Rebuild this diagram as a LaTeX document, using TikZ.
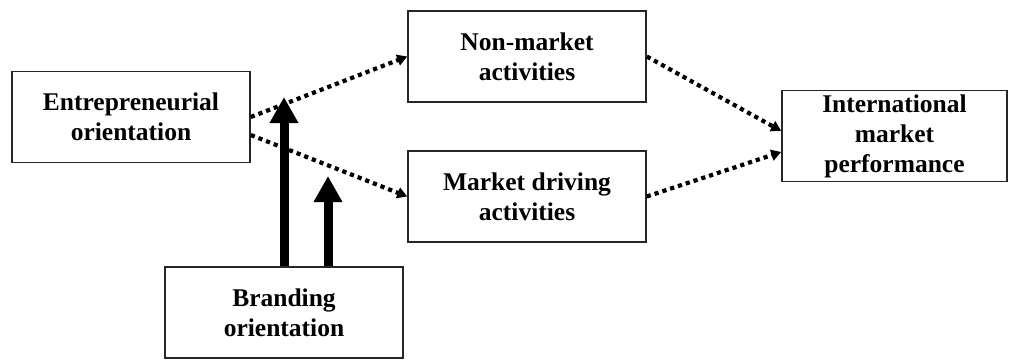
\documentclass[tikz,border=0pt]{standalone}
\usepackage{fontspec}
\setmainfont{Liberation Serif}
\usetikzlibrary{arrows.meta,calc}
\begin{document}
\begin{tikzpicture}[x=1pt,y=-1pt,
  boxnode/.style={draw=black!85,line width=1.6pt,fill=white,minimum width=238pt,minimum height=91pt,
    align=center,inner sep=0pt,font=\fontsize{25.5}{30}\selectfont\bfseries},
  dotarrow/.style={line width=4.2pt,dash pattern=on 4.2pt off 4pt,-{Triangle[length=10pt,width=11pt]}},
  fatarrow/.style={line width=9pt,-{Triangle[length=26pt,width=27pt]}}]
\useasboundingbox (0,0) rectangle (1009,359);
\node[boxnode] (eo) at (131,117) {Entrepreneurial\\orientation};
\node[boxnode] (nm) at (527,56.5) {Non-market\\activities};
\node[boxnode] (md) at (527,196.5) {Market driving\\activities};
\node[boxnode,minimum width=225pt] (imp) at (894.5,136) {International\\market\\performance};
\node[boxnode] (bo) at (284,312.5) {Branding\\orientation};
\coordinate (eoa) at ($(eo.east)+(0,0)$);
\coordinate (eob) at ($(eo.east)+(0,18)$);
\coordinate (impa) at ($(imp.west)+(0,-5)$);
\coordinate (impb) at ($(imp.west)+(0,16)$);
\coordinate (t1) at (284,97);
\coordinate (t2) at (328,176);
\coordinate (b2) at ($(bo.north)+(44,0)$);
\draw[dotarrow] (eoa) -- (nm.west);
\draw[dotarrow] (eob) -- (md.west);
\draw[dotarrow] (nm.east) -- (impa);
\draw[dotarrow] (md.east) -- (impb);
\draw[fatarrow] (bo.north) -- (t1);
\draw[fatarrow] (b2) -- (t2);
\end{tikzpicture}
\end{document}
